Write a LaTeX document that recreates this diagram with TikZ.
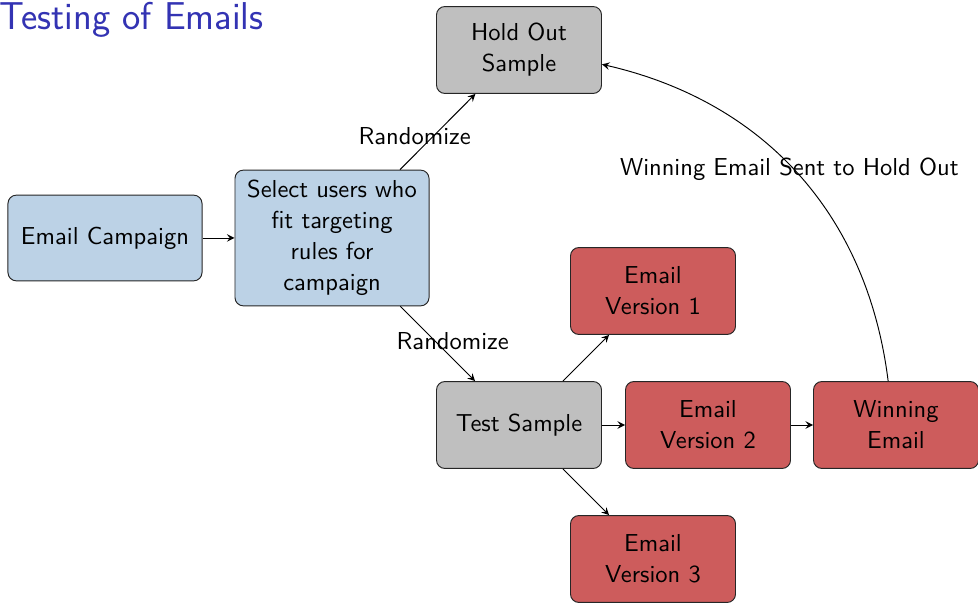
\documentclass[tikz,border=0pt]{standalone}
\usepackage{tikz}
\usetikzlibrary{arrows}
\renewcommand{\familydefault}{\sfdefault}

\definecolor{titleblue}{RGB}{51,51,179}
\definecolor{boxblue}{RGB}{188,210,230}
\definecolor{boxgray}{RGB}{191,191,191}
\definecolor{boxred}{RGB}{205,92,92}

\tikzset{
	stage/.style={draw=black!85, rounded corners=3.5pt, align=center, inner sep=2pt},
	wide/.style={stage, minimum width=81.5pt, minimum height=36pt},
	narrow/.style={stage, minimum width=69.3pt, minimum height=36.5pt},
}

\begin{document}
\begin{tikzpicture}[x=0.42pt,y=0.42pt,>=stealth,font=\fontsize{10.3pt}{13pt}\selectfont]
		\useasboundingbox (0,0) rectangle (978,604);
		\node[anchor=base west, inner sep=0, text=titleblue, font=\fontsize{16.3pt}{19pt}\selectfont] (title) at (-1,574) {Testing of Emails};
		% left part: campaign and targeting
		\node[wide, fill=boxblue] (campaign) at (105,366) {Email Campaign};
		\node[wide, fill=boxblue, minimum height=57pt] (select) at (332,366) {Select users who\\fit targeting\\rules for\\campaign};
		% the two samples
		\node[narrow, fill=boxgray] (holdout) at (519,554) {Hold Out\\Sample};
		\node[narrow, fill=boxgray] (test) at (519,179) {Test Sample};
		% email versions
		\node[narrow, fill=boxred] (version1) at (653,313) {Email\\Version 1};
		\node[narrow, fill=boxred] (version2) at (708,179) {Email\\Version 2};
		\node[narrow, fill=boxred] (version3) at (653,45) {Email\\Version 3};
		\node[narrow, fill=boxred] (winner) at (896,179) {Winning\\Email};
		\draw[->] (campaign) -- (select);
		\draw[->] (select) -- (holdout) node[midway, shift={(-23,-4)}] {Randomize};
		\draw[->] (select) -- (test) node[midway, shift={(15,3)}] {Randomize};
		\draw[->] (test) -- (version1);
		\draw[->] (test) -- (version2);
		\draw[->] (test) -- (version3);
		\draw[->] (version2) -- (winner);
		\draw[->] (winner) to[bend right=35] node[midway, shift={(-9,5)}] {Winning Email Sent to Hold Out} (holdout);
	\end{tikzpicture}
\end{document}
